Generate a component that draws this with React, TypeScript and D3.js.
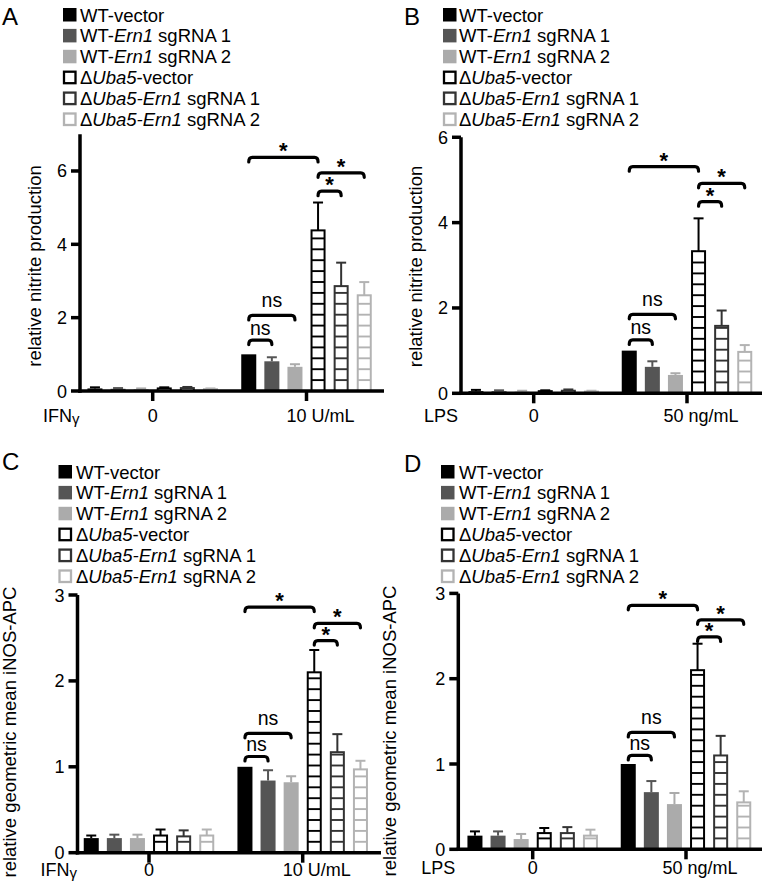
import React from "react";
import * as d3 from "d3";

// ---------- data ----------
const seriesKeys = ["wtVector", "wtErn1sg1", "wtErn1sg2", "uba5Vector", "uba5Ern1sg1", "uba5Ern1sg2"];
const legendLabels: [string, boolean][][] = [
  [["WT-vector", false]],
  [["WT-", false], ["Ern1", true], [" sgRNA 1", false]],
  [["WT-", false], ["Ern1", true], [" sgRNA 2", false]],
  [["\u0394", false], ["Uba5", true], ["-vector", false]],
  [["\u0394", false], ["Uba5-Ern1", true], [" sgRNA 1", false]],
  [["\u0394", false], ["Uba5-Ern1", true], [" sgRNA 2", false]],
];
const groupsIFN = ["0", "10 U/mL"];
const groupsLPS = ["0", "50 ng/mL"];

const ticksA = [0, 2, 4, 6];
const ticksB = [0, 2, 4, 6];
const ticksCD = [0, 1, 2, 3];

// Panel A: nitrite, IFNγ
const meanA0 = [0.07, 0.06, 0.05, 0.07, 0.08, 0.05];
const errA0 = [0.03, 0.02, 0.02, 0.03, 0.03, 0.02];
const meanA1 = [1.0, 0.81, 0.66, 4.38, 2.86, 2.61];
const errA1 = [0, 0.11, 0.07, 0.76, 0.64, 0.36];
// Panel B: nitrite, LPS
const meanB0 = [0.05, 0.05, 0.04, 0.05, 0.06, 0.04];
const errB0 = [0.03, 0.02, 0.02, 0.02, 0.03, 0.02];
const meanB1 = [1.0, 0.62, 0.43, 3.33, 1.58, 0.97];
const errB1 = [0, 0.13, 0.04, 0.77, 0.36, 0.16];
// Panel C: iNOS, IFNγ
const meanC0 = [0.17, 0.17, 0.17, 0.2, 0.19, 0.2];
const errC0 = [0.03, 0.04, 0.04, 0.07, 0.07, 0.07];
const meanC1 = [1.0, 0.84, 0.82, 2.1, 1.17, 0.97];
const errC1 = [0, 0.12, 0.07, 0.26, 0.21, 0.1];
// Panel D: iNOS, LPS
const meanD0 = [0.16, 0.16, 0.12, 0.19, 0.19, 0.16];
const errD0 = [0.05, 0.05, 0.06, 0.06, 0.07, 0.07];
const meanD1 = [1.0, 0.67, 0.53, 2.1, 1.1, 0.55];
const errD1 = [0, 0.13, 0.13, 0.31, 0.23, 0.13];

// significance brackets: [fromSeries, toSeries, yValue, label] in the second group
const bracketsA: [number, number, number, string][] = [
  [0, 1, 1.39, "ns"], [0, 2, 2.06, "ns"], [0, 3, 6.37, "*"], [3, 5, 5.95, "*"], [3, 4, 5.45, "*"],
];
const bracketsB: [number, number, number, string][] = [
  [0, 1, 1.25, "ns"], [0, 2, 1.85, "ns"], [0, 3, 5.31, "*"], [3, 5, 4.92, "*"], [3, 4, 4.49, "*"],
];
const bracketsC: [number, number, number, string][] = [
  [0, 1, 1.12, "ns"], [0, 2, 1.39, "ns"], [0, 3, 2.86, "*"], [3, 5, 2.67, "*"], [3, 4, 2.47, "*"],
];
const bracketsD: [number, number, number, string][] = [
  [0, 1, 1.1, "ns"], [0, 2, 1.37, "ns"], [0, 3, 2.86, "*"], [3, 5, 2.69, "*"], [3, 4, 2.49, "*"],
];

// ---------- styles ----------
const FONT = "'Liberation Sans', Arial, Helvetica, sans-serif";
const fills = ["#000000", "#555555", "#ababab", "#ffffff", "#ffffff", "#ffffff"];
const strokes = ["#000000", "#555555", "#ababab", "#000000", "#333333", "#b3b3b3"];
const hatched = [false, false, false, true, true, true];

interface Cfg {
  letter: string; lx: number; ly: number;
  x0: number; y0: number; yMax: number; ppu: number; ticks: number[];
  g0: number; g1: number; xEnd: number;
  groups: string[]; stim: string; gamma: boolean; xlabY: number;
  means: number[][]; errs: number[][];
  brackets: [number, number, number, string][];
  legSq: number; legTx: number; legY: number; legStep: number;
  yLabel: string; ylx: number; yly: number;
}

const panels: Cfg[] = [
  {
    letter: "A", lx: 2, ly: 25, x0: 80, y0: 391, yMax: 7, ppu: 36.67, ticks: ticksA,
    g0: 72.7, g1: 226.5, xEnd: 384, groups: groupsIFN, stim: "IFN", gamma: true, xlabY: 421.5,
    means: [meanA0, meanA1], errs: [errA0, errA1], brackets: bracketsA,
    legSq: 63, legTx: 80, legY: 15, legStep: 20.9,
    yLabel: "relative nitrite production", ylx: 35, yly: 266,
  },
  {
    letter: "B", lx: 404, ly: 25, x0: 461, y0: 393.3, yMax: 6, ppu: 42.67, ticks: ticksB,
    g0: 72.7, g1: 226, xEnd: 762, groups: groupsLPS, stim: "LPS", gamma: false, xlabY: 421.5,
    means: [meanB0, meanB1], errs: [errB0, errB1], brackets: bracketsB,
    legSq: 443, legTx: 459, legY: 15, legStep: 20.9,
    yLabel: "relative nitrite production", ylx: 416, yly: 266.5,
  },
  {
    letter: "C", lx: 2, ly: 470, x0: 77.5, y0: 852.7, yMax: 3, ppu: 85.9, ticks: ticksCD,
    g0: 71.5, g1: 225.2, xEnd: 381, groups: groupsIFN, stim: "IFN", gamma: true, xlabY: 876,
    means: [meanC0, meanC1], errs: [errC0, errC1], brackets: bracketsC,
    legSq: 58.5, legTx: 76, legY: 472, legStep: 20.9,
    yLabel: "relative geometric mean iNOS-APC", ylx: 10, yly: 732,
  },
  {
    letter: "D", lx: 404, ly: 471.5, x0: 458.3, y0: 849.3, yMax: 3, ppu: 85.3, ticks: ticksCD,
    g0: 74.4, g1: 227.7, xEnd: 762, groups: groupsLPS, stim: "LPS", gamma: false, xlabY: 873.5,
    means: [meanD0, meanD1], errs: [errD0, errD1], brackets: bracketsD,
    legSq: 441, legTx: 459, legY: 472, legStep: 20.9,
    yLabel: "relative geometric mean iNOS-APC", ylx: 389.5, yly: 731,
  },
];

const HATCH = 10.9;

function Panel({ c }: { c: Cfg }) {
  const y = d3.scaleLinear().domain([0, c.yMax]).range([c.y0, c.y0 - c.yMax * c.ppu]);
  const xg = d3.scalePoint<string>().domain(c.groups).range([c.x0 + c.g0, c.x0 + c.g1]);
  const xs = d3.scaleBand<string>().domain(seriesKeys).range([-69.3, 69.3]).paddingInner(0.35).paddingOuter(0.175);
  const bw = xs.bandwidth();
  const barX = (g: number, s: number) => (xg(c.groups[g]) as number) + (xs(seriesKeys[s]) as number);
  const barC = (g: number, s: number) => barX(g, s) + bw / 2;

  const bars: React.ReactNode[] = [];
  c.groups.forEach((_, gi) => {
    seriesKeys.forEach((_, si) => {
      const v = c.means[gi][si];
      const e = c.errs[gi][si];
      const x = barX(gi, si);
      const yt = y(v);
      const key = `${gi}-${si}`;
      if (hatched[si]) {
        const lines: React.ReactNode[] = [];
        for (let k = 1; c.y0 - k * HATCH > yt + 1.5; k++) {
          const ly = c.y0 - k * HATCH;
          lines.push(<line key={k} x1={x + 1} x2={x + bw - 1} y1={ly} y2={ly} stroke={strokes[si]} strokeWidth={1.9} />);
        }
        bars.push(
          <g key={key}>
            <rect x={x + 1} y={yt} width={bw - 2} height={c.y0 - yt} fill="#fff" stroke={strokes[si]} strokeWidth={2} />
            {lines}
          </g>
        );
      } else {
        bars.push(<rect key={key} x={x} y={yt} width={bw} height={c.y0 - yt} fill={fills[si]} />);
      }
      if (e > 0) {
        const cx = x + bw / 2;
        const ye = y(v + e);
        bars.push(
          <g key={key + "e"} stroke={strokes[si]} strokeWidth={2}>
            <line x1={cx} x2={cx} y1={yt} y2={ye} />
            <line x1={cx - 5} x2={cx + 5} y1={ye} y2={ye} />
          </g>
        );
      }
    });
  });

  const brackets = c.brackets.map(([a, b, v, lab], i) => {
    const x1 = barC(1, a);
    const x2 = barC(1, b);
    const by = y(v);
    const d = `M${x1},${by + 4.5} Q${x1},${by} ${x1 + 3.5},${by} L${x2 - 3.5},${by} Q${x2},${by} ${x2},${by + 4.5}`;
    const tx = (x1 + x2) / 2;
    return (
      <g key={i}>
        <path d={d} fill="none" stroke="#000" strokeWidth={3.2} strokeLinecap="round" />
        {lab === "*" ? (
          <text x={tx} y={by - 11 + 12} textAnchor="middle" fontSize={22} fontWeight="bold" fontFamily={FONT}>*</text>
        ) : (
          <text x={tx} y={by - (i === 1 ? 14 : 11) + 5.5} textAnchor="middle" fontSize={19.5} fontFamily={FONT}>ns</text>
        )}
      </g>
    );
  });

  const yTop = y(c.yMax);

  return (
    <g fontFamily={FONT}>
      <text x={c.lx} y={c.ly} fontSize={24}>{c.letter}</text>
      {legendLabels.map((parts, i) => {
        const cy = c.legY + i * c.legStep;
        return (
          <g key={i}>
            {hatched[i] ? (
              <rect x={c.legSq + 1} y={cy - 6} width={11.5} height={11.5} fill="#fff" stroke={strokes[i]} strokeWidth={2.3} />
            ) : (
              <rect x={c.legSq} y={cy - 7} width={13.5} height={13.5} fill={fills[i]} />
            )}
            <text x={c.legTx} y={cy + 6.5} fontSize={18.5}>
              {parts.map(([t, it], j) => (
                <tspan key={j} fontStyle={it ? "italic" : "normal"}>{t}</tspan>
              ))}
            </text>
          </g>
        );
      })}
      {bars}
      {brackets}
      {/* y axis */}
      <line x1={c.x0} x2={c.x0} y1={c.y0 + 1.75} y2={yTop} stroke="#000" strokeWidth={3.5} />
      {c.ticks.map((t) => (
        <g key={t}>
          <line x1={c.x0 - 9} x2={c.x0} y1={y(t)} y2={y(t)} stroke="#000" strokeWidth={3.5} />
          <text x={c.x0 - 13} y={y(t) + 6.5} textAnchor="end" fontSize={18}>{t}</text>
        </g>
      ))}
      {/* x axis */}
      <line x1={c.x0 - 1.75} x2={c.xEnd} y1={c.y0} y2={c.y0} stroke="#000" strokeWidth={3.5} />
      {c.groups.map((g, gi) => (
        <g key={g}>
          <line x1={xg(g)} x2={xg(g)} y1={c.y0} y2={c.y0 + 10} stroke="#000" strokeWidth={3.5} />
          <text x={(xg(g) as number) + (gi === 0 ? 0 : 14)} y={c.xlabY} textAnchor="middle" fontSize={18}>{g}</text>
        </g>
      ))}
      <text x={c.x0 - 37} y={c.xlabY} fontSize={18}>
        {c.stim}
        {c.gamma ? <tspan fontSize={15} dy={2}>{"\u03b3"}</tspan> : null}
      </text>
      <text transform={`translate(${c.ylx + 6},${c.yly}) rotate(-90)`} textAnchor="middle" fontSize={18.5}>{c.yLabel}</text>
    </g>
  );
}

export default function App() {
  return (
    <svg width={762} height={884} style={{ position: "absolute", left: 0, top: 0, background: "#fff" }}>
      <rect width={762} height={884} fill="#fff" />
      {panels.map((p) => (
        <Panel key={p.letter} c={p} />
      ))}
    </svg>
  );
}
